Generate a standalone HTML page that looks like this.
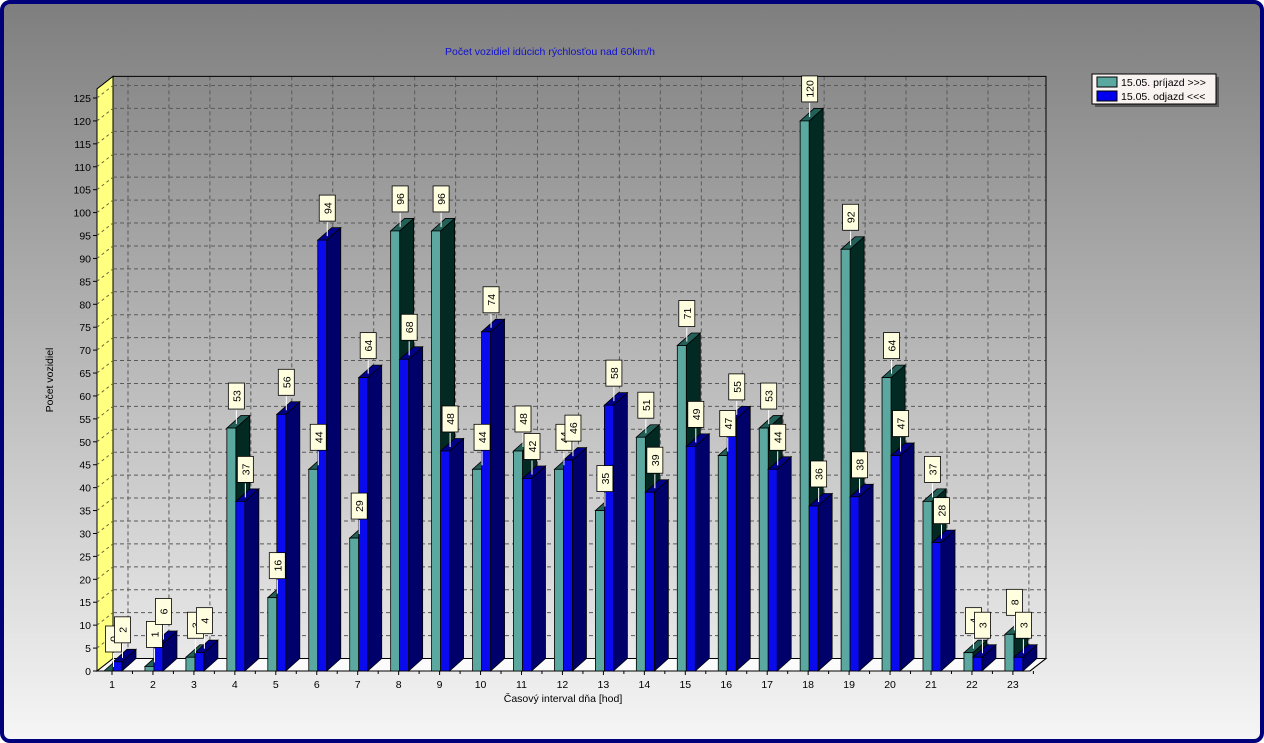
<!DOCTYPE html>
<html><head><meta charset="utf-8">
<style>
html,body{margin:0;padding:0;width:1264px;height:743px;overflow:hidden;background:#fff}
svg{display:block;font-family:"Liberation Sans",sans-serif}
</style></head>
<body>
<svg id="c" width="1264" height="743" viewBox="0 0 1264 743">
<defs>
<linearGradient id="bg" x1="0" y1="0" x2="0" y2="1">
<stop offset="0" stop-color="#7e7e7e"/><stop offset="1" stop-color="#f6f6f6"/>
</linearGradient>
</defs>
<rect x="2" y="2" width="1260" height="739" rx="8" fill="url(#bg)" stroke="#00007a" stroke-width="4"/>
<text x="550" y="55" font-size="10.5" fill="#1010d0" text-anchor="middle">Počet vozidiel idúcich rýchlosťou nad 60km/h</text>
<g id="plot"></g>
<text x="563" y="702" font-size="10.5" fill="#000" text-anchor="middle">Časový interval dňa [hod]</text>
<text transform="translate(53,380) rotate(-90)" font-size="10.5" fill="#000" text-anchor="middle">Počet vozidiel</text>
<g>
<rect x="1095" y="77" width="124" height="30" fill="#555"/>
<rect x="1092" y="74" width="124" height="30" fill="#f8f2f0" stroke="#000"/>
<rect x="1097" y="77" width="20" height="10" fill="#5aa8a0" stroke="#000"/>
<text x="1121" y="86" font-size="10.5">15.05.  príjazd &gt;&gt;&gt;</text>
<rect x="1097" y="91" width="20" height="10" fill="#0000ee" stroke="#000"/>
<text x="1121" y="100" font-size="10.5">15.05.  odjazd &lt;&lt;&lt;</text>
</g>
</svg>
<script>
const categories=["1","2","3","4","5","6","7","8","9","10","11","12","13","14","15","16","17","18","19","20","21","22","23"];
const prijazd=[0,1,3,53,16,44,29,96,96,44,48,44,35,51,71,47,53,120,92,64,37,4,8];
const odjazd=[2,6,4,37,56,94,64,68,48,74,42,46,58,39,49,55,44,36,38,47,28,3,3];
const yTicks=[0,5,10,15,20,25,30,35,40,45,50,55,60,65,70,75,80,85,90,95,100,105,110,115,120,125];

const NS="http://www.w3.org/2000/svg";
const g=document.getElementById('plot');
const DX=16,DY=-12.5;
const Y0=671,YS=4.584;
const X0=112,XS=40.95;
function y(v){return Y0-v*YS;}
function x(i){return X0+i*XS;}
function el(t,a,p){const e=document.createElementNS(NS,t);for(const k in a)e.setAttribute(k,a[k]);(p||g).appendChild(e);return e;}
const left=97,right=1030;
// left yellow wall
let w=el('polygon',{points:`${left},${y(0)} ${left},${y(127)} ${left+DX},${y(127)+DY} ${left+DX},${y(0)+DY}`,fill:'#ffff80',stroke:'#000'});


// floor
let f=el('polygon',{points:`${left},${Y0} ${right},${Y0} ${right+DX},${Y0+DY} ${left+DX},${Y0+DY}`,fill:'#fbfbfb',stroke:'#000'});


// back grid
yTicks.forEach(v=>{
  const yy=y(v)+DY;
  if(v>0){
    let l=el('line',{x1:left+DX,y1:yy,x2:right+DX,y2:yy,stroke:'#5a5a5a','stroke-dasharray':'4,3','stroke-width':1});
    
    
    el('line',{x1:left,y1:y(v),x2:left+DX,y2:yy,stroke:'#6a6a40','stroke-dasharray':'3,3'});
  }
  el('line',{x1:left-4,y1:y(v),x2:left,y2:y(v),stroke:'#000'});
  let t=el('text',{x:left-6,y:y(v)+4,'font-size':10.5,'text-anchor':'end'});
  t.textContent=v;
  
  
});
categories.forEach((c,i)=>{
  el('line',{x1:x(i)+DX,y1:y(127)+DY,x2:x(i)+DX,y2:Y0+DY,stroke:'#5a5a5a','stroke-dasharray':'4,3'});
});
// back wall border
el('polyline',{points:`${left+DX},${y(127)+DY} ${right+DX},${y(127)+DY} ${right+DX},${Y0+DY} ${right},${Y0}`,fill:'none',stroke:'#000'});
// x ticks and labels
categories.forEach((c,i)=>{
  el('line',{x1:x(i),y1:Y0,x2:x(i),y2:Y0+4,stroke:'#000'});
  el('line',{x1:x(i)+XS/2,y1:Y0,x2:x(i)+XS/2,y2:Y0+3,stroke:'#000'});
  let t=el('text',{x:x(i),y:Y0+17,'font-size':10.5,'text-anchor':'middle'});
  t.textContent=c;
  
  
});
function bar(i,v,off,wid,cols,name){
  const x1=x(i)+off,x2=x1+wid,yt=y(v),yb=Y0;
  const grp=el('g',{});
  
  
  el('polygon',{points:`${x2},${yb} ${x2},${yt} ${x2+DX-2},${yt+DY} ${x2+DX-2},${yb+DY}`,fill:cols[2],stroke:'#000','stroke-width':0.8},grp);
  el('polygon',{points:`${x1},${yt} ${x2},${yt} ${x2+DX-2},${yt+DY} ${x1+DX-2},${yt+DY}`,fill:cols[1],stroke:'#000','stroke-width':0.8},grp);
  el('rect',{x:x1,y:yt,width:wid,height:yb-yt,fill:cols[0],stroke:'#000','stroke-width':0.8},grp);
  return [x1+wid/2+5,yt];
}
const labels=[];
categories.forEach((c,i)=>{
  labels.push([bar(i,prijazd[i],-8,9,['#5aa8a0','#226058','#022a22'],'bar-prijazd-'+c),prijazd[i],'label-prijazd-'+c]);
  labels.push([bar(i,odjazd[i],1,9,['#0a0aee','#00008a','#00006a'],'bar-odjazd-'+c),odjazd[i],'label-odjazd-'+c]);
});
labels.forEach(([p,v,n])=>{
  const [cx,yt]=p;
  el('line',{x1:cx,y1:yt-4,x2:cx,y2:yt-18,stroke:'#fff'});
  const lg=el('g',{});
  
  
  el('rect',{x:cx-8,y:yt-45,width:16,height:26,fill:'#ffffe0',stroke:'#000','stroke-width':0.8},lg);
  const t=el('text',{transform:`translate(${cx+4},${yt-32}) rotate(-90)`,'font-size':10.5,'text-anchor':'middle'},lg);
  t.textContent=v;
});
</script>
</body></html>
